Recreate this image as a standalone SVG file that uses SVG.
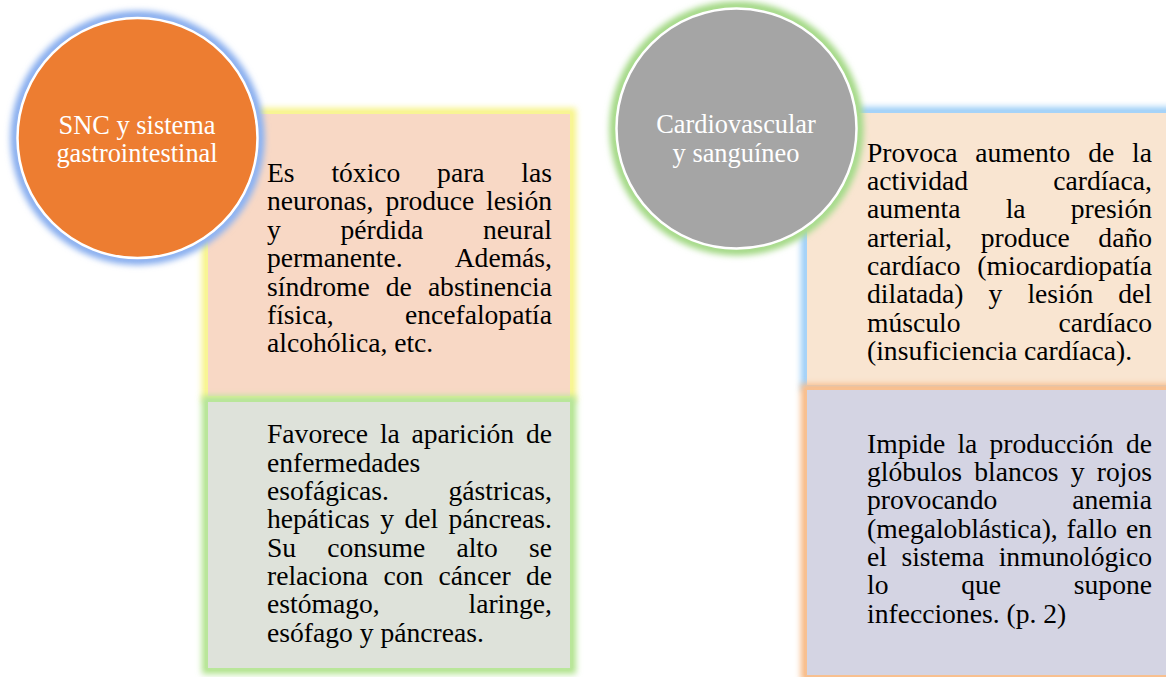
<svg xmlns="http://www.w3.org/2000/svg" width="1166" height="677" viewBox="0 0 1166 677">
<style>
.t{font-family:"Liberation Serif","Times New Roman",serif;font-size:27.6px;fill:#000}
.e{text-anchor:end}
.c{font-family:"Liberation Serif","Times New Roman",serif;font-size:26.4px;fill:#fff;text-anchor:middle}
.glow{fill:none;filter:url(#soft)}
</style>
<defs>
<filter id="soft" x="-20%" y="-20%" width="140%" height="140%">
<feGaussianBlur stdDeviation="3.4"/>
<feComponentTransfer><feFuncA type="linear" slope="1.15"/></feComponentTransfer>
</filter>
</defs>
<rect width="1166" height="677" fill="#fff"/>

<g id="box-snc-1">
<rect class="glow" x="208" y="114" width="362" height="282" stroke="#F8F594" stroke-width="12"/>
<rect x="208" y="114" width="362" height="282" fill="#F8D8C5"/>
<text class="t" y="182"><tspan x="267">Es</tspan><tspan x="331.4">tóxico</tspan><tspan x="437.1">para</tspan></text><text class="t e" x="552" y="182">las</text>
<text class="t" y="210.4"><tspan x="267">neuronas,</tspan><tspan x="385.4">produce</tspan></text><text class="t e" x="552" y="210.4">lesión</text>
<text class="t" y="238.8"><tspan x="267">y</tspan><tspan x="340.5">pérdida</tspan></text><text class="t e" x="552" y="238.8">neural</text>
<text class="t" x="267" y="267.2">permanente.</text><text class="t e" x="552" y="267.2">Además,</text>
<text class="t" y="295.6"><tspan x="267">síndrome</tspan><tspan x="385.7">de</tspan></text><text class="t e" x="552" y="295.6">abstinencia</text>
<text class="t" x="267" y="324">física,</text><text class="t e" x="552" y="324">encefalopatía</text>
<text class="t" x="267" y="352.4">alcohólica, etc.</text>
</g>

<g id="box-snc-2">
<rect class="glow" x="208" y="402" width="362" height="266" stroke="#B9E69A" stroke-width="12"/>
<rect x="208" y="402" width="362" height="266" fill="#DEE2DA"/>
<text class="t" y="443.3"><tspan x="267">Favorece</tspan><tspan x="379.9">la</tspan><tspan x="411.5">aparición</tspan></text><text class="t e" x="552" y="443.3">de</text>
<text class="t" x="267" y="471.65">enfermedades</text>
<text class="t" x="267" y="500">esofágicas.</text><text class="t e" x="552" y="500">gástricas,</text>
<text class="t" y="528.35"><tspan x="267">hepáticas</tspan><tspan x="380.2">y</tspan><tspan x="404.5">del</tspan></text><text class="t e" x="552" y="528.35">páncreas.</text>
<text class="t" y="556.7"><tspan x="267">Su</tspan><tspan x="327.2">consume</tspan><tspan x="456.4">alto</tspan></text><text class="t e" x="552" y="556.7">se</text>
<text class="t" y="585.05"><tspan x="267">relaciona</tspan><tspan x="383.5">con</tspan><tspan x="438.6">cáncer</tspan></text><text class="t e" x="552" y="585.05">de</text>
<text class="t" x="267" y="613.4">estómago,</text><text class="t e" x="552" y="613.4">laringe,</text>
<text class="t" x="267" y="641.75">esófago y páncreas.</text>
</g>

<g id="circle-snc">
<circle class="glow" cx="137.5" cy="138" r="122" stroke="#93B5F0" stroke-width="10"/>
<circle cx="137.5" cy="138" r="120" fill="#ED7D31" stroke="#fff" stroke-width="2.5"/>
<text class="c" x="137" y="134">SNC y sistema</text>
<text class="c" x="137" y="161.7">gastrointestinal</text>
</g>

<g id="box-cardio-1">
<rect class="glow" x="807" y="113" width="380" height="272" stroke="#A6D3F8" stroke-width="12"/>
<rect x="807" y="113" width="380" height="272" fill="#F9E5D1"/>
<text class="t" y="161.7"><tspan x="867">Provoca</tspan><tspan x="975.3">aumento</tspan><tspan x="1088.2">de</tspan></text><text class="t e" x="1152" y="161.7">la</text>
<text class="t" x="867" y="190.05">actividad</text><text class="t e" x="1152" y="190.05">cardíaca,</text>
<text class="t" y="218.4"><tspan x="867">aumenta</tspan><tspan x="1005.7">la</tspan></text><text class="t e" x="1152" y="218.4">presión</text>
<text class="t" y="246.75"><tspan x="867">arterial,</tspan><tspan x="980.8">produce</tspan></text><text class="t e" x="1152" y="246.75">daño</text>
<text class="t" x="867" y="275.1">cardíaco</text><text class="t e" x="1152" y="275.1">(miocardiopatía</text>
<text class="t" y="303.45"><tspan x="867">dilatada)</tspan><tspan x="988.6">y</tspan><tspan x="1027.4">lesión</tspan></text><text class="t e" x="1152" y="303.45">del</text>
<text class="t" x="867" y="331.8">músculo</text><text class="t e" x="1152" y="331.8">cardíaco</text>
<text class="t" x="867" y="360.15">(insuficiencia cardíaca).</text>
</g>

<g id="box-cardio-2">
<rect class="glow" x="807" y="390" width="380" height="285" stroke="#F8C090" stroke-width="12"/>
<rect x="807" y="390" width="380" height="285" fill="#D4D4E3"/>
<text class="t" y="452.5"><tspan x="867">Impide</tspan><tspan x="957.4">la</tspan><tspan x="989.5">producción</tspan></text><text class="t e" x="1152" y="452.5">de</text>
<text class="t" y="480.85"><tspan x="867">glóbulos</tspan><tspan x="974.3">blancos</tspan><tspan x="1070.8">y</tspan></text><text class="t e" x="1152" y="480.85">rojos</text>
<text class="t" x="867" y="509.2">provocando</text><text class="t e" x="1152" y="509.2">anemia</text>
<text class="t" y="537.55"><tspan x="867">(megaloblástica),</tspan><tspan x="1066.6">fallo</tspan></text><text class="t e" x="1152" y="537.55">en</text>
<text class="t" y="565.9"><tspan x="867">el</tspan><tspan x="901.4">sistema</tspan></text><text class="t e" x="1152" y="565.9">inmunológico</text>
<text class="t" y="594.25"><tspan x="867">lo</tspan><tspan x="961.2">que</tspan></text><text class="t e" x="1152" y="594.25">supone</text>
<text class="t" x="867" y="622.6">infecciones. (p. 2)</text>
</g>

<g id="circle-cardio">
<circle class="glow" cx="736.5" cy="128.5" r="122" stroke="#ABDC90" stroke-width="10"/>
<circle cx="736.5" cy="128.5" r="120" fill="#A5A5A5" stroke="#fff" stroke-width="2.5"/>
<text class="c" x="736" y="133.3">Cardiovascular</text>
<text class="c" x="736" y="161.7">y sanguíneo</text>
</g>

<g id="connectors"/>
</svg>
